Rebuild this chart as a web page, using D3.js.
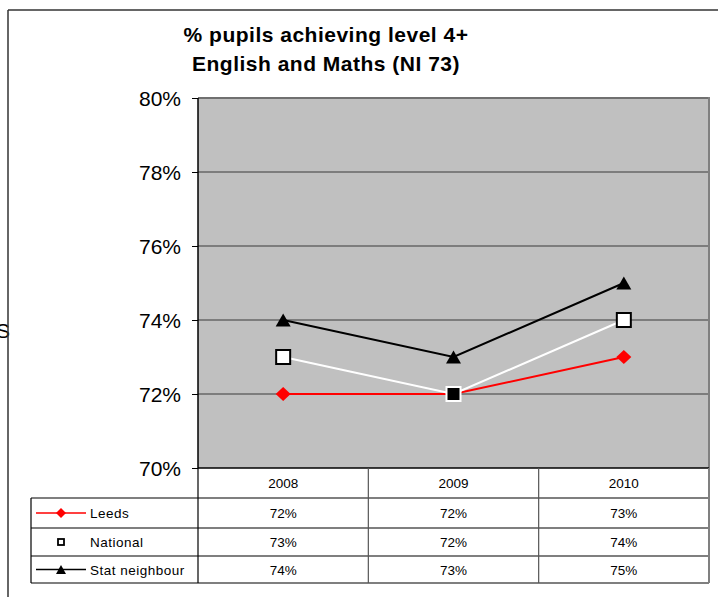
<!DOCTYPE html>
<html>
<head>
<meta charset="utf-8">
<script src="https://cdn.jsdelivr.net/npm/d3@7"></script>
<style>
  html, body { margin: 0; padding: 0; background: #fff; }
  svg { display: block; font-family: "Liberation Sans", Arial, sans-serif; }
</style>
</head>
<body>
<svg id="chart" width="718" height="597"></svg>
<script>
// Key Stage 2 attainment, % pupils achieving level 4+ in English and Maths
const years = ["2008", "2009", "2010"];
const leeds = [72, 72, 73];
const national = [73, 72, 74];
const statNeighbour = [74, 73, 75];
const yTicks = [70, 72, 74, 76, 78, 80];
const titleLines = ["% pupils achieving level 4+", "English and Maths (NI 73)"];

const series = [
  { name: "Leeds", values: leeds, line: "#ff0000", lineWidth: 2, marker: "diamond" },
  { name: "National", values: national, line: "#ffffff", lineWidth: 2, marker: "square" },
  { name: "Stat neighbour", values: statNeighbour, line: "#000000", lineWidth: 2, marker: "triangle" }
];

const svg = d3.select("#chart");
const plot = { left: 198, right: 709, top: 98, bottom: 468 };

const x = d3.scaleBand().domain(years).range([plot.left, plot.right]);
const y = d3.scaleLinear().domain([70, 80]).range([plot.bottom, plot.top]);
const cx = d => x(d) + x.bandwidth() / 2;

// marker shapes, centred on the point
const diamondPath = (w, h) => `M0,${-h / 2}L${w / 2},0L0,${h / 2}L${-w / 2},0Z`;
const trianglePath = (w, h) => `M0,${-h / 2}L${w / 2},${h / 2}L${-w / 2},${h / 2}Z`;

// Outer chart frame (axis title mostly outside the frame)
svg.append("text").attr("x", -4).attr("y", 338)
  .attr("font-size", 21).attr("fill", "#000").text("S");
svg.append("line").attr("x1", 8).attr("x2", 718).attr("y1", 10).attr("y2", 10)
  .attr("stroke", "#333").attr("stroke-width", 1.5);
svg.append("line").attr("x1", 8).attr("x2", 8).attr("y1", 10).attr("y2", 597)
  .attr("stroke", "#333").attr("stroke-width", 1.5);

// Title
svg.append("g").selectAll("text").data(titleLines).join("text")
  .attr("x", 326).attr("y", (d, i) => 42 + i * 29)
  .attr("text-anchor", "middle").attr("font-size", 21).attr("font-weight", "bold")
  .attr("letter-spacing", 0.5)
  .text(d => d);

// Plot area background
svg.append("rect")
  .attr("x", plot.left).attr("y", plot.top)
  .attr("width", plot.right - plot.left).attr("height", plot.bottom - plot.top)
  .attr("fill", "#c0c0c0");

// Gridlines
svg.append("g").selectAll("line").data(yTicks.filter(t => t > 70)).join("line")
  .attr("x1", plot.left).attr("x2", plot.right)
  .attr("y1", d => y(d)).attr("y2", d => y(d))
  .attr("stroke", d => d === 80 ? "#707070" : "#3a3a3a").attr("stroke-width", d => d === 80 ? 2 : 1);

// Right border of plot area
svg.append("line").attr("x1", plot.right).attr("x2", plot.right)
  .attr("y1", plot.top - 1).attr("y2", plot.bottom)
  .attr("stroke", "#808080").attr("stroke-width", 2);

// Y axis
const yAxis = d3.axisLeft(y).tickValues(yTicks).tickSize(6).tickPadding(11)
  .tickFormat(d => d + "%");
const gy = svg.append("g").attr("transform", `translate(${plot.left},0)`).call(yAxis);
gy.select(".domain").remove();
gy.selectAll(".tick line").attr("stroke", "#000");
gy.selectAll(".tick text").attr("font-size", 21).attr("fill", "#000")
  .attr("font-family", "Liberation Sans, Arial, sans-serif").attr("dy", "0.36em");
svg.append("line").attr("x1", plot.left).attr("x2", plot.left)
  .attr("y1", plot.top).attr("y2", plot.bottom)
  .attr("stroke", "#000").attr("stroke-width", 1.5);

// Data table beneath the plot
const rowY = [468, 498, 528, 556, 583];
const tableLeft = 31;
const tbl = svg.append("g");
tbl.append("line").attr("x1", plot.left).attr("x2", plot.right)
  .attr("y1", rowY[0]).attr("y2", rowY[0]).attr("stroke", "#000").attr("stroke-width", 1.5);
rowY.slice(1).forEach(ry => {
  tbl.append("line").attr("x1", tableLeft).attr("x2", plot.right)
    .attr("y1", ry).attr("y2", ry).attr("stroke", "#000").attr("stroke-width", 1.2);
});
tbl.append("line").attr("x1", tableLeft).attr("x2", tableLeft).attr("y1", rowY[1]).attr("y2", rowY[4])
  .attr("stroke", "#000").attr("stroke-width", 1.2);
tbl.append("line").attr("x1", plot.left).attr("x2", plot.left).attr("y1", rowY[0]).attr("y2", rowY[4])
  .attr("stroke", "#000").attr("stroke-width", 1.2);
years.slice(1).forEach(yr => {
  tbl.append("line").attr("x1", x(yr)).attr("x2", x(yr)).attr("y1", rowY[0]).attr("y2", rowY[4])
    .attr("stroke", "#555").attr("stroke-width", 1.2);
});
tbl.append("line").attr("x1", plot.right).attr("x2", plot.right).attr("y1", rowY[0]).attr("y2", rowY[4])
  .attr("stroke", "#808080").attr("stroke-width", 2);

// year header
tbl.selectAll("text.yr").data(years).join("text").attr("class", "yr")
  .attr("x", d => cx(d)).attr("y", (rowY[0] + rowY[1]) / 2 + 5)
  .attr("text-anchor", "middle").attr("font-size", 13.5).text(d => d);

// series rows with legend keys
series.forEach((s, i) => {
  const top = rowY[i + 1], bot = rowY[i + 2];
  const mid = (top + bot) / 2;
  tbl.selectAll(null).data(s.values).join("text")
    .attr("x", (d, j) => cx(years[j])).attr("y", mid + 5)
    .attr("text-anchor", "middle").attr("font-size", 13.5).text(d => d + "%");
  tbl.append("text").attr("x", 90).attr("y", mid + 5).attr("font-size", 13.5)
    .attr("letter-spacing", 0.5).text(s.name);
  if (s.marker !== "square") {
    tbl.append("line").attr("x1", 36).attr("x2", 86).attr("y1", mid).attr("y2", mid)
      .attr("stroke", s.line).attr("stroke-width", 1.5);
  }
  const key = tbl.append("g").attr("transform", `translate(61,${mid})`);
  if (s.marker === "square") {
    key.append("rect").attr("x", -3).attr("y", -3).attr("width", 6).attr("height", 6)
      .attr("fill", "#fff").attr("stroke", "#000").attr("stroke-width", 1.8);
  } else if (s.marker === "diamond") {
    key.append("path").attr("d", diamondPath(10, 10)).attr("fill", "#ff0000");
  } else {
    key.append("path").attr("d", trianglePath(10, 9)).attr("fill", "#000");
  }
});

// Lines and markers
const lineGen = d3.line().x((d, i) => cx(years[i])).y(d => y(d));
series.forEach(s => {
  svg.append("path").datum(s.values).attr("d", lineGen)
    .attr("fill", "none").attr("stroke", s.line).attr("stroke-width", s.lineWidth);
});
series.forEach(s => {
  const g = svg.append("g");
  s.values.forEach((v, i) => {
    const px = cx(years[i]), py = y(v);
    if (s.marker === "diamond") {
      g.append("path").attr("transform", `translate(${px},${py})`)
        .attr("d", diamondPath(15, 14)).attr("fill", "#ff0000");
    } else if (s.marker === "square") {
      // where the national point sits on the Leeds point, it is drawn inverted
      const overlap = v === leeds[i];
      g.append("rect").attr("x", px - 7).attr("y", py - 7).attr("width", 14).attr("height", 14)
        .attr("fill", overlap ? "#000" : "#fff")
        .attr("stroke", overlap ? "#fff" : "#000").attr("stroke-width", 2);
    } else {
      g.append("path").attr("transform", `translate(${px},${py})`)
        .attr("d", trianglePath(15, 13)).attr("fill", "#000");
    }
  });
});
</script>
</body>
</html>
